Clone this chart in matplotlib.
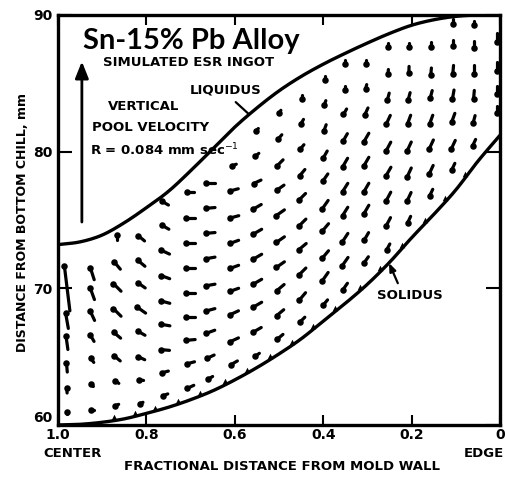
import matplotlib
matplotlib.use("Agg")
import matplotlib.pyplot as plt
import numpy as np
from matplotlib.collections import LineCollection

# boundary curves: fractional distance from mold wall -> height (mm)
curve_frac = [1.00, 0.95, 0.90, 0.85, 0.80, 0.75, 0.70, 0.65, 0.60, 0.55, 0.50,
              0.45, 0.40, 0.35, 0.30, 0.25, 0.20, 0.15, 0.10, 0.05, 0.00]
liquidus_mm = [73.2, 73.4, 73.9, 74.8, 75.9, 77.1, 78.6, 80.2, 81.8, 83.2, 84.45,
               85.5, 86.4, 87.2, 87.95, 88.65, 89.25, 89.65, 89.9, 90.0, 90.0]
solidus_mm = [60.0, 60.05, 60.2, 60.45, 60.85, 61.3, 61.85, 62.5, 63.3, 64.2, 65.2,
              66.3, 67.6, 68.9, 70.3, 71.9, 73.7, 75.4, 77.2, 79.3, 81.2]

# interdendritic flow marks, one list per grid column
col_frac = [0.980, 0.923, 0.867, 0.812, 0.758, 0.701, 0.656, 0.602, 0.550, 0.498,
            0.448, 0.396, 0.351, 0.303, 0.253, 0.206, 0.156, 0.106, 0.059, 0.007]
col_mm = [
    [60.88, 62.56, 64.24, 66.07, 67.68, 70.17],
    [61.10, 62.93, 64.76, 66.37, 68.05, 69.66, 71.12],
    [61.46, 63.15, 64.90, 66.59, 68.27, 70.10, 71.71, 73.76],
    [61.61, 63.29, 64.90, 66.73, 68.42, 70.24, 71.85, 73.68],
    [62.20, 63.88, 65.49, 67.32, 69.00, 70.83, 72.66, 74.49, 76.24],
    [62.78, 64.54, 66.22, 67.90, 69.66, 71.49, 73.32, 75.15, 77.05],
    [63.44, 64.98, 66.81, 68.42, 70.24, 72.22, 74.05, 75.88, 77.71],
    [64.54, 66.22, 68.20, 69.88, 71.56, 73.39, 75.22, 77.20, 79.02],
    [65.12, 66.95, 68.78, 70.46, 72.29, 74.12, 75.95, 77.78, 79.76, 81.59],
    [66.44, 68.20, 70.02, 71.71, 73.54, 75.51, 77.34, 79.17, 81.07, 82.90],
    [67.68, 69.37, 71.20, 73.02, 74.78, 76.68, 78.44, 80.34, 82.17, 84.00],
    [68.93, 70.83, 72.44, 74.42, 76.10, 78.07, 79.76, 81.73, 83.56, 85.39],
    [70.10, 71.93, 73.68, 75.59, 77.34, 79.17, 81.00, 82.90, 84.66, 86.56],
    [72.07, 73.76, 75.73, 77.34, 79.24, 81.00, 82.90, 84.73, 86.56],
    [73.02, 74.85, 76.68, 78.51, 80.34, 82.32, 84.00, 85.83, 87.80],
    [75.00, 76.68, 78.44, 80.34, 82.32, 84.00, 85.98, 87.80],
    [76.98, 78.66, 80.49, 82.32, 84.15, 85.83, 87.80],
    [78.88, 80.49, 82.46, 84.15, 85.98, 87.95, 89.49],
    [80.63, 82.32, 84.15, 85.98, 87.80, 89.41],
    [83.05, 84.51, 86.20, 88.32],
]
# flow direction on the page (deg, counter-clockwise from +x on screen)
col_dir = [
    [90, 95, 95, 98, 100, 97],
    [180, 130, 125, 120, 115, 110, 108],
    [200, 145, 140, 140, 135, 135, 130, 90],
    [200, 170, 155, 150, 145, 145, 140, 140],
    [200, 195, 175, 170, 165, 160, 155, 150, 150],
    [205, 195, 185, 180, 180, 180, 180, 180, 180],
    [210, 205, 200, 195, 190, 190, 185, 185, 180],
    [210, 205, 205, 200, 200, 200, 195, 195, 200],
    [215, 210, 210, 210, 210, 210, 210, 205, 220, 225],
    [220, 220, 220, 215, 215, 215, 215, 225, 230, 240],
    [225, 230, 225, 220, 225, 225, 230, 230, 240, 270],
    [230, 235, 230, 230, 235, 235, 240, 250, 250, 270],
    [235, 235, 237, 238, 238, 240, 240, 240, 270, 270],
    [235, 240, 240, 240, 240, 240, 245, 255, 270],
    [242, 242, 242, 240, 242, 245, 255, 265, 270],
    [245, 245, 245, 245, 250, 255, 268, 270],
    [245, 245, 245, 250, 255, 265, 270],
    [245, 245, 250, 260, 265, 270, 270],
    [245, 255, 265, 270, 270, 270],
    [270, 270, 270, 270],
]
# mark length (px)
col_len = [
    [3, 6, 10, 15, 17, 50],
    [3, 4, 6, 8, 12, 14, 14],
    [4, 5, 9, 10, 12, 12, 11, 6],
    [4, 5, 8, 9, 11, 10, 10, 9],
    [6, 7, 9, 10, 10, 10, 10, 9, 8],
    [8, 9, 10, 10, 10, 10, 10, 10, 8],
    [6, 9, 10, 10, 10, 10, 10, 10, 9],
    [8, 10, 10, 10, 10, 10, 10, 9, 5],
    [6, 10, 11, 11, 11, 11, 10, 9, 5, 4],
    [8, 10, 11, 11, 11, 11, 10, 9, 6, 4],
    [8, 11, 11, 11, 11, 10, 9, 6, 6, 4],
    [8, 11, 11, 11, 11, 10, 9, 7, 5, 4],
    [9, 11, 11, 11, 11, 11, 10, 7, 4, 4],
    [8, 10, 11, 11, 11, 11, 9, 5, 4],
    [7, 10, 11, 11, 11, 10, 8, 5, 4],
    [8, 10, 11, 11, 10, 9, 7, 5],
    [8, 10, 11, 10, 9, 8, 6],
    [8, 10, 10, 10, 9, 7, 5],
    [8, 9, 9, 9, 8, 5],
    [7, 9, 10, 10],
]
solidus_tick_frac = [0.873, 0.826, 0.780, 0.729, 0.679, 0.622, 0.572, 0.520, 0.471,
                     0.423, 0.373, 0.317, 0.271, 0.222, 0.170, 0.124, 0.079]

x_ticks = [1.0, 0.8, 0.6, 0.4, 0.2, 0.0]
x_tick_labels = ["1.0", "0.8", "0.6", "0.4", "0.2", "0"]
y_ticks = [60, 70, 80, 90]

bold = dict(family="DejaVu Sans", fontweight="bold", color="black")


def smooth(xp, yp, n=12):
    # Catmull-Rom pass through the read points, just to round off the corners
    p = np.column_stack([xp, yp]).astype(float)
    p = np.vstack([2 * p[0] - p[1], p, 2 * p[-1] - p[-2]])
    t = np.linspace(0, 1, n, endpoint=False)[:, None]
    out = []
    for i in range(1, len(p) - 2):
        p0, p1, p2, p3 = p[i - 1], p[i], p[i + 1], p[i + 2]
        out.append(0.5 * (2 * p1 + (-p0 + p2) * t + (2 * p0 - 5 * p1 + 4 * p2 - p3) * t ** 2
                          + (-p0 + 3 * p1 - 3 * p2 + p3) * t ** 3))
    out.append(p[-2][None, :])
    out = np.vstack(out)
    return out[:, 0], out[:, 1]


fig = plt.figure(figsize=(5.05, 4.8), dpi=100)
ax = fig.add_axes([58 / 505, 55 / 480, 442 / 505, 410 / 480])
ax.set_xlim(1.0, 0.0)
ax.set_ylim(60, 90)

for curve in (liquidus_mm, solidus_mm):
    sx, sy = smooth(curve_frac, curve)
    ax.plot(sx, sy, color="black", lw=2.4, solid_capstyle="round", zorder=3)

# small bumps sitting on the solidus
tick_y = np.interp(solidus_tick_frac, curve_frac[::-1], solidus_mm[::-1])
ax.scatter(solidus_tick_frac, tick_y + 0.25, s=16, marker="^", c="black", lw=0, zorder=3)

# velocity marks: stroke with a blob at the downstream end
xs = np.concatenate([[x] * len(m) for x, m in zip(col_frac, col_mm)])
ys = np.concatenate(col_mm)
ds = np.radians(np.concatenate(col_dir))
ls = np.concatenate(col_len).astype(float)
pts = ax.transData.transform(np.column_stack([xs, ys]))
half = np.column_stack([np.cos(ds), np.sin(ds)]) * (ls / 2)[:, None]
inv = ax.transData.inverted()
heads = inv.transform(pts + half * 0.8)
tails = inv.transform(pts - half)
segs = np.stack([tails, heads], axis=1)
ax.add_collection(LineCollection(segs, colors="black", linewidths=2.3,
                                 capstyle="round", zorder=4, clip_on=False))
ax.scatter(heads[:, 0], heads[:, 1], s=22, c="black", lw=0, zorder=4, clip_on=False)

# vertical pool velocity arrow
ax.annotate("", xy=(0.946, 86.6), xytext=(0.946, 74.85),
            arrowprops=dict(arrowstyle="-|>,head_length=1.0,head_width=0.4",
                            lw=2.0, color="black", shrinkA=0, shrinkB=0))

ax.text(0.943, 88.1, "Sn-15% Pb Alloy", fontsize=21, fontweight="bold",
        family="Lato", ha="left", va="center")
ax.text(0.898, 86.56, "SIMULATED ESR INGOT", fontsize=9.5, ha="left", va="center", **bold)
ax.text(0.887, 83.27, "VERTICAL", fontsize=9.5, ha="left", va="center", **bold)
ax.text(0.923, 81.80, "POOL VELOCITY", fontsize=9.5, ha="left", va="center", **bold)
ax.text(0.928, 80.12, "R = 0.084 mm sec$^{-1}$", fontsize=9.5, ha="left", va="center", **bold)
ax.annotate("LIQUIDUS", xy=(0.57, 82.8), xytext=(0.701, 84.51), fontsize=9.5,
            ha="left", va="center", **bold,
            arrowprops=dict(arrowstyle="-", lw=1.6, color="black",
                            relpos=(0.55, 0.0), shrinkA=3, shrinkB=0))
ax.annotate("SOLIDUS", xy=(0.251, 71.85), xytext=(0.278, 69.51), fontsize=9.5,
            ha="left", va="center", **bold,
            arrowprops=dict(arrowstyle="-|>,head_length=0.5,head_width=0.2", lw=1.6,
                            color="black", relpos=(0.35, 1.0), shrinkA=2, shrinkB=0))

ax.set_xticks(x_ticks)
ax.set_xticklabels(x_tick_labels, fontsize=10, **bold)
ax.set_yticks(y_ticks)
ax.set_yticklabels([str(v) for v in y_ticks], fontsize=10, **bold)
ax.get_yticklabels()[0].set_va("bottom")  # keep "60" clear of "1.0"
ax.tick_params(axis="x", direction="in", length=7, width=1.5, pad=2.5, top=True)
ax.tick_params(axis="y", direction="in", length=10, width=1.5, pad=4, right=True)
for s in ax.spines.values():
    s.set_linewidth(2.4)

ax.text(-0.034, -0.07, "CENTER", transform=ax.transAxes, fontsize=9.5,
        ha="left", va="center", **bold)
ax.text(1.008, -0.07, "EDGE", transform=ax.transAxes, fontsize=9.5,
        ha="right", va="center", **bold)

ax.set_xlabel("FRACTIONAL DISTANCE FROM MOLD WALL", fontsize=9.5, **bold)
ax.xaxis.set_label_coords(0.507, -0.085)
ax.set_ylabel("DISTANCE FROM BOTTOM CHILL, mm", fontsize=9, **bold)
ax.yaxis.set_label_coords(-0.066, 0.495)

fig.savefig("out.png", dpi=100)
